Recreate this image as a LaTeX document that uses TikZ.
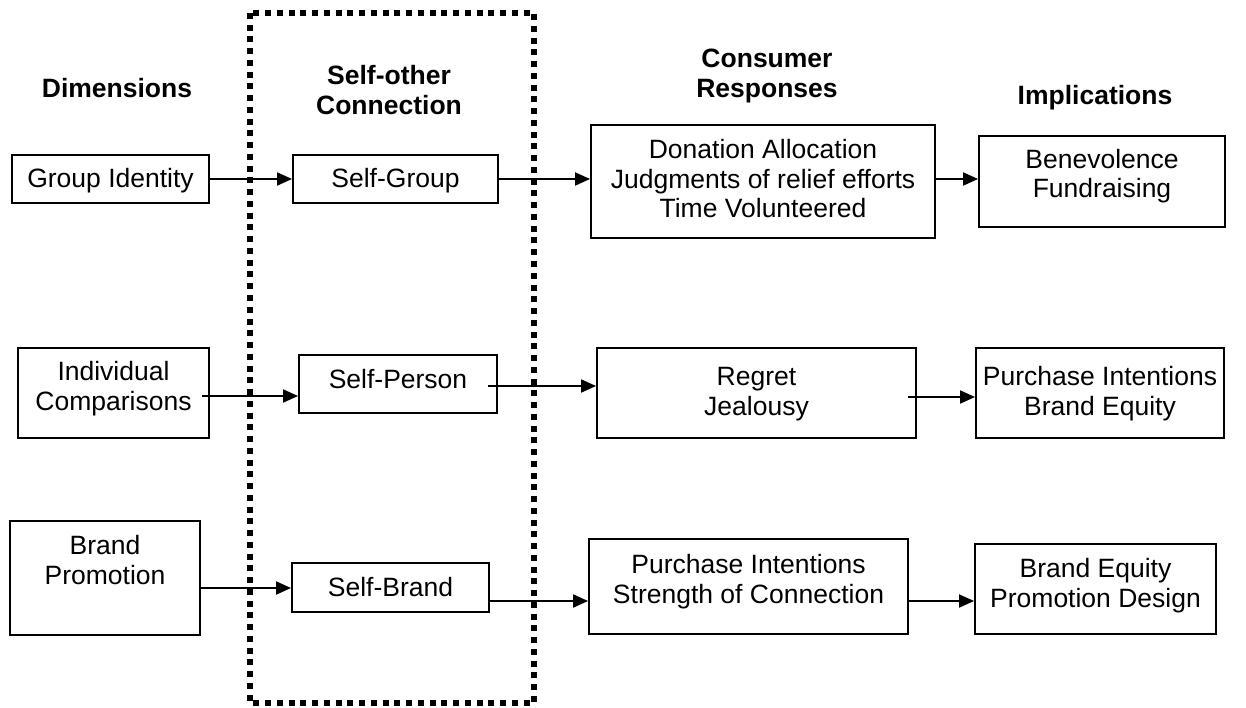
\documentclass[tikz,border=0pt]{standalone}
\usepackage{fontspec}
\setmainfont{Liberation Sans}
\usetikzlibrary{arrows.meta}
\newcommand\diagfont{\fontsize{26.5}{29.7}\selectfont}
\newcommand\headfont{\fontsize{26.5}{30}\selectfont\bfseries}
\begin{document}
\begin{tikzpicture}[x=1pt,y=-1pt,
  box/.style={draw, line width=1.9pt, inner sep=0pt},
  txt/.style={inner sep=0pt, align=center, anchor=base, font=\diagfont},
  head/.style={inner sep=0pt, align=center, anchor=base, font=\headfont},
  conn/.style={line width=1.9pt, -{Triangle[length=15pt,width=13pt]}},
  dotbox/.style={line width=6pt, dash pattern=on 6pt off 5.75pt}]
\useasboundingbox (0,0) rectangle (1246,708);

% column headings (positions are last baselines)
\node[head] (hdim) at (117,98) {Dimensions};
\node[head] (hself) at (389,115) {Self-other\\Connection};
\node[head] (hcons) at (767,98) {Consumer\\Responses};
\node[head] (himpl) at (1095,105) {Implications};

% dotted frame round the self-other column
\draw[dotbox] (250,13) rectangle (534,703);

% row 1
\node[box, minimum width=197pt, minimum height=48pt] (group) at (110.5,179) {};
\node[txt] (grouptxt) at (110.5,188) {Group Identity};
\node[box, minimum width=205pt, minimum height=48pt] (sgroup) at (395.5,179) {};
\node[txt] (sgrouptxt) at (395.5,188) {Self-Group};
\node[box, minimum width=344pt, minimum height=113pt] (donation) at (763,181.5) {};
\node[txt] (donationtxt) at (763,218) {Donation Allocation\\Judgments of relief efforts\\Time Volunteered};
\node[box, minimum width=246pt, minimum height=91pt] (benev) at (1102,181.5) {};
\node[txt] (benevtxt) at (1102,198) {Benevolence\\Fundraising};

% row 2
\node[box, minimum width=191pt, minimum height=90pt] (indiv) at (113.5,393) {};
\node[txt] (indivtxt) at (113.5,410) {Individual\\Comparisons};
\node[box, minimum width=198pt, minimum height=58pt] (sperson) at (398,384) {};
\node[txt] (spersontxt) at (398,388) {Self-Person};
\node[box, minimum width=319pt, minimum height=90pt] (regret) at (756.5,393) {};
\node[txt] (regrettxt) at (756.5,415) {Regret\\Jealousy};
\node[box, minimum width=248pt, minimum height=90pt] (purch) at (1100,393) {};
\node[txt] (purchtxt) at (1100,415) {Purchase Intentions\\Brand Equity};

% row 3
\node[box, minimum width=190pt, minimum height=114pt] (brand) at (105,578) {};
\node[txt] (brandtxt) at (105,584) {Brand\\Promotion};
\node[box, minimum width=197pt, minimum height=49pt] (sbrand) at (390.5,587.5) {};
\node[txt] (sbrandtxt) at (390.5,596) {Self-Brand};
\node[box, minimum width=319pt, minimum height=95pt] (strength) at (748.5,586.5) {};
\node[txt] (strengthtxt) at (748.5,603) {Purchase Intentions\\Strength of Connection};
\node[box, minimum width=241pt, minimum height=90pt] (equity) at (1095.5,589) {};
\node[txt] (equitytxt) at (1095.5,607) {Brand Equity\\Promotion Design};

% arrow tails that do not sit on a box centre line
\coordinate (indivout) at (202,396);
\coordinate (spersonout) at (488,386);
\coordinate (regretout) at (908,397);
\coordinate (brandout) at (201,588);
\coordinate (sbrandout) at (489,601);
\coordinate (strengthout) at (908,601);

% connectors
\draw[conn] (group.east) -- (sgroup.west);
\draw[conn] (sgroup.east) -- (sgroup.east -| donation.west);
\draw[conn] (sgroup.east -| donation.east) -- (sgroup.east -| benev.west);
\draw[conn] (indivout) -- (indivout -| sperson.west);
\draw[conn] (spersonout) -- (spersonout -| regret.west);
\draw[conn] (regretout) -- (regretout -| purch.west);
\draw[conn] (brandout) -- (brandout -| sbrand.west);
\draw[conn] (sbrandout) -- (sbrandout -| strength.west);
\draw[conn] (strengthout) -- (strengthout -| equity.west);
\end{tikzpicture}
\end{document}
